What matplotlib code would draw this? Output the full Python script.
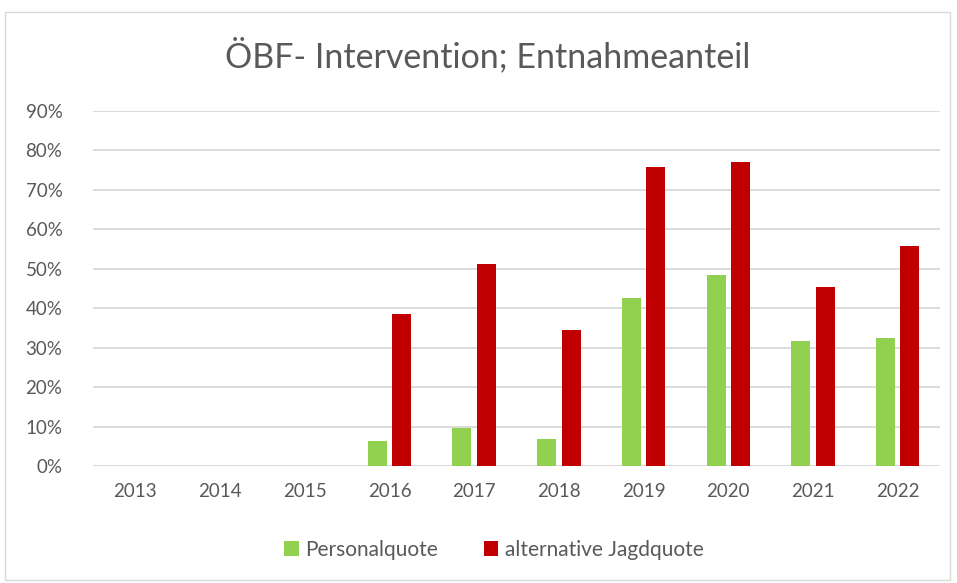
import matplotlib
matplotlib.use("Agg")
import matplotlib.pyplot as plt
import numpy as np
from matplotlib.patches import Rectangle
from matplotlib.ticker import FuncFormatter

years = ["2013", "2014", "2015", "2016", "2017", "2018", "2019", "2020", "2021", "2022"]
personalquote = [0, 0, 0, 0.063, 0.096, 0.069, 0.426, 0.484, 0.316, 0.324]
jagdquote = [0, 0, 0, 0.386, 0.512, 0.344, 0.759, 0.770, 0.454, 0.557]

plt.rcParams['font.family'] = ['Lato', 'DejaVu Sans']
text_col = "#595959"

fig = plt.figure(figsize=(9.57, 5.83), dpi=100)
fig.patches.append(Rectangle((5 / 957, 3 / 583), 945 / 957, 568 / 583, transform=fig.transFigure,
                             fill=False, edgecolor="#D9D9D9", linewidth=1))
ax = fig.add_axes([93 / 957, 1 - 466 / 583, 847 / 957, 355 / 583])

x = np.arange(len(years))
w = 0.224
ax.bar(x - 0.144, personalquote, w, color="#92D050", label="Personalquote", zorder=3)
ax.bar(x + 0.144, jagdquote, w, color="#C00000", label="alternative Jagdquote", zorder=3)

ax.set_xlim(-0.5, len(years) - 0.5)
ax.set_ylim(0, 0.9)
ax.set_yticks(np.arange(0, 0.91, 0.1))
ax.yaxis.set_major_formatter(FuncFormatter(lambda v, p: f"{v * 100:.0f}%"))
ax.set_xticks(x)
ax.set_xticklabels(years)
ax.grid(axis="y", color="#D9D9D9", linewidth=1.3, zorder=0)
for s in ax.spines.values():
    s.set_visible(False)
ax.tick_params(length=0, labelsize=13.5, colors=text_col)
ax.tick_params(axis="y", pad=22)
ax.tick_params(axis="x", pad=12)

fig.text(0.51, 1 - 55 / 583, "ÖBF- Intervention; Entnahmeanteil", ha="center", va="center",
         fontsize=24.5, color=text_col)
fig.legend(loc="center", bbox_to_anchor=(494 / 957, 1 - 550 / 583), ncol=2, frameon=False,
           fontsize=15, labelcolor=text_col, handlelength=0.7, handleheight=0.7,
           handletextpad=0.3, columnspacing=2.2)

fig.savefig("out.png", dpi=100)
